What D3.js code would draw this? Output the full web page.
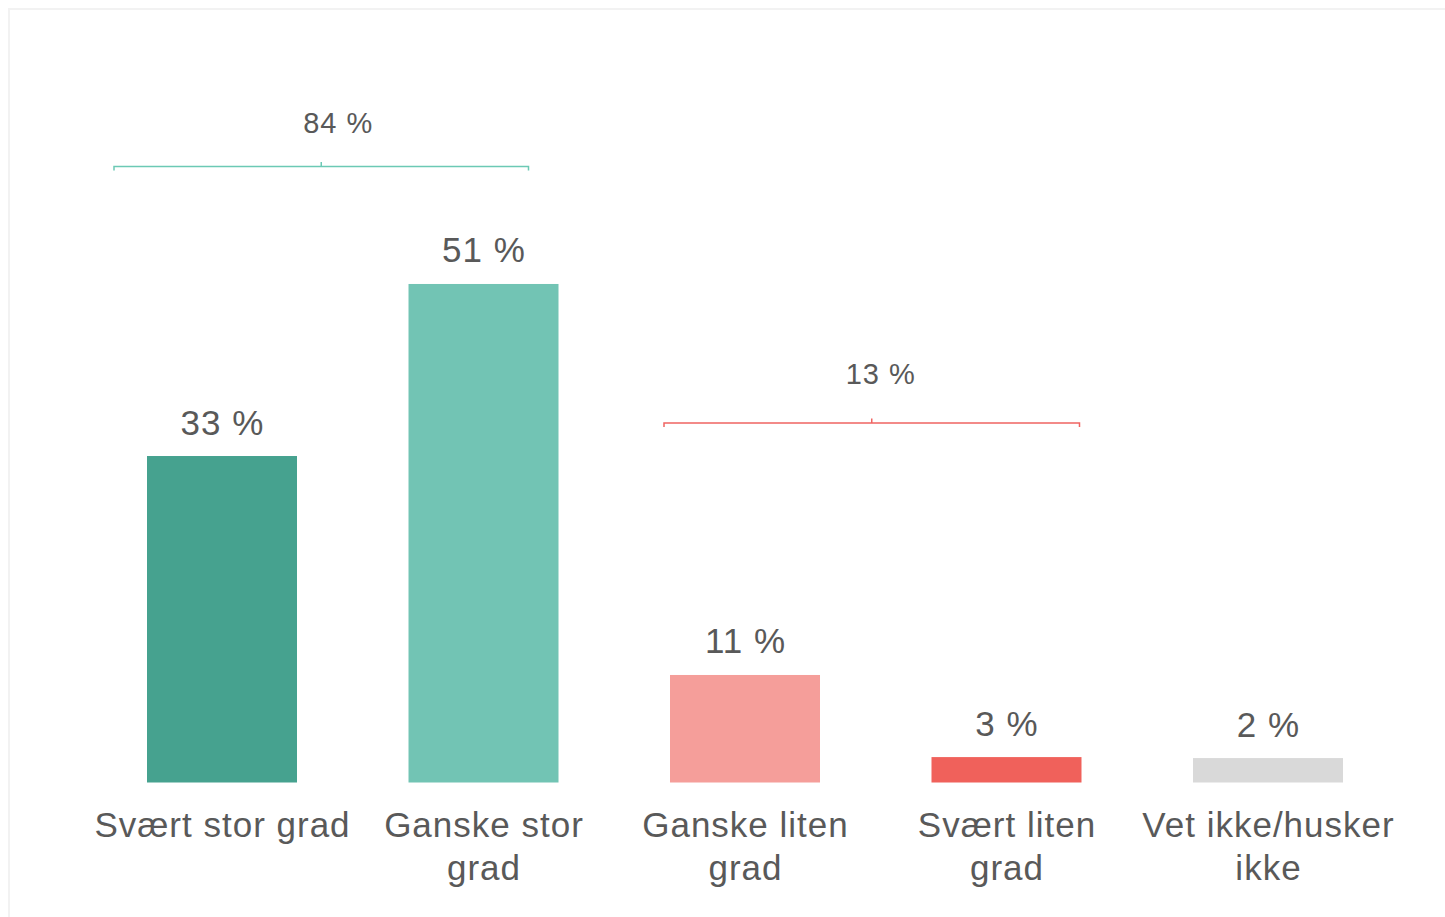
<!DOCTYPE html>
<meta charset="utf-8">
<style>
body { margin: 0; background: #fff; }
svg { display: block; font-family: Arial, "Liberation Sans", sans-serif; }
.label { fill: #595959; }
</style>
<body>
<script src="https://cdn.jsdelivr.net/npm/d3@7"></script>
<script>

var categories = ["Svært stor grad", "Ganske stor grad", "Ganske liten grad", "Svært liten grad", "Vet ikke/husker ikke"];
// axis labels as they break in the original
var categoryLines = [["Svært stor grad"], ["Ganske stor", "grad"], ["Ganske liten", "grad"], ["Svært liten", "grad"], ["Vet ikke/husker", "ikke"]];
var values = [33.4, 51.0, 11.0, 2.6, 2.5];
var valueLabels = ["33 %", "51 %", "11 %", "3 %", "2 %"];
var colors = ["#46a28f", "#72c4b4", "#f59e9a", "#f0615b", "#d9d9d9"];

// grouped totals shown as brackets above the bars
var groupLabels = ["84 %", "13 %"];
var groupMembers = [[0, 1], [2, 3]];
var groupColors = ["#6cc9b5", "#f06462"];

var width = 1445, height = 917;

var svg = d3.select("body").append("svg")
    .attr("width", width)
    .attr("height", height);

// faint frame
svg.append("rect")
    .attr("x", 9).attr("y", 9)
    .attr("width", width).attr("height", height)
    .attr("fill", "none")
    .attr("stroke", "#f2f2f2")
    .attr("stroke-width", 2);

var x = d3.scaleBand()
    .domain(categories)
    .range([35.5, 1454.5])
    .paddingInner(0.4264)
    .paddingOuter(0.4264);

var y = d3.scaleLinear()
    .domain([0, 60])
    .range([782.5, 782.5 - 60 * 9.775]);

svg.selectAll("rect.bar")
    .data(values)
  .enter().append("rect")
    .attr("class", "bar")
    .attr("x", function(d, i) { return x(categories[i]); })
    .attr("width", x.bandwidth())
    .attr("y", function(d) { return y(d); })
    .attr("height", function(d) { return y(0) - y(d); })
    .attr("fill", function(d, i) { return colors[i]; });

svg.selectAll("text.val")
    .data(values)
  .enter().append("text")
    .attr("class", "val label")
    .attr("x", function(d, i) { return x(categories[i]) + x.bandwidth() / 2 + 0.5; })
    .attr("y", function(d) { return y(d) - 21.5; })
    .attr("text-anchor", "middle")
    .style("font-size", "35px")
    .style("letter-spacing", "1px")
    .text(function(d, i) { return valueLabels[i]; });

var cat = svg.selectAll("text.cat")
    .data(categories)
  .enter().append("text")
    .attr("class", "cat label")
    .attr("x", function(d) { return x(d) + x.bandwidth() / 2 + 0.5; })
    .attr("y", 837)
    .attr("text-anchor", "middle")
    .style("font-size", "35px")
    .style("letter-spacing", "1px");

cat.each(function(d, i) {
  var t = d3.select(this);
  categoryLines[i].forEach(function(l, k) {
    t.append("tspan")
        .attr("x", t.attr("x"))
        .attr("dy", k == 0 ? 0 : 43)
        .text(l);
  });
});

// brackets: level and span offsets tuned per group
var bracketY = [166.5, 423];
var bracketPad = [[-108, 45], [-81, 73]];
var labelShift = [17, 9];
var labelGap = [34, 39];

groupMembers.forEach(function(m, g) {
  var x0 = x(categories[m[0]]) + x.bandwidth() / 2 + bracketPad[g][0],
      x1 = x(categories[m[m.length - 1]]) + x.bandwidth() / 2 + bracketPad[g][1],
      by = bracketY[g],
      mid = (x0 + x1) / 2;
  svg.append("path")
      .attr("d", "M" + x0 + "," + (by + 4) + "V" + by + "H" + x1 + "V" + (by + 4)
                 + "M" + mid + "," + by + "V" + (by - 4.5))
      .attr("fill", "none")
      .attr("stroke", groupColors[g])
      .attr("stroke-width", 1.5);
  svg.append("text")
      .attr("class", "label")
      .attr("x", mid + labelShift[g])
      .attr("y", by - labelGap[g])
      .attr("text-anchor", "middle")
      .style("font-size", "29px")
      .style("letter-spacing", "1px")
      .text(groupLabels[g]);
});

</script>
</body>
